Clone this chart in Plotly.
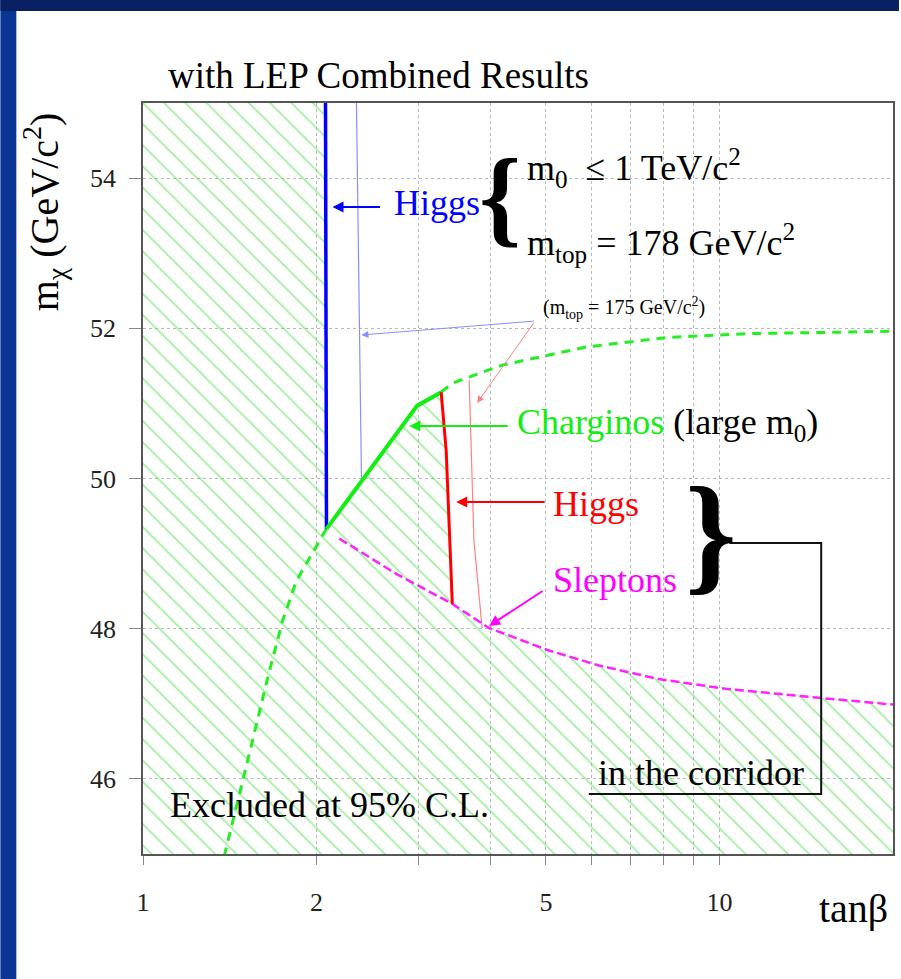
import plotly.graph_objects as go

# ---------------- data (tanβ , m_chi [GeV/c^2]) ----------------
x_range = [1, 20]
y_range = [45, 55]
x_tickvals = [1, 2, 3, 4, 5, 6, 7, 8, 9, 10]
x_ticktext = ["1", "2", "", "", "5", "", "", "", "", "10"]
y_tickvals = [46, 48, 50, 52, 54]
y_ticktext = ["46", "48", "50", "52", "54"]

higgs178_x = [2.073, 2.081]
higgs178_y = [55.0, 49.33]
higgs175_x = [2.346, 2.393]
higgs175_y = [55.0, 50.01]

chargino_solid_x = [2.081, 2.99, 3.29]
chargino_solid_y = [49.33, 50.97, 51.15]
chargino_upper_x = [3.29, 3.44, 4.20, 5.86, 8.16, 11.36, 20.0]
chargino_upper_y = [51.15, 51.27, 51.51, 51.75, 51.88, 51.93, 51.96]
chargino_lower_x = [2.081, 1.846, 1.747, 1.646, 1.489, 1.386]
chargino_lower_y = [49.33, 48.64, 48.11, 47.35, 45.97, 45.0]

higgs_red178_x = [3.29, 3.357, 3.44]
higgs_red178_y = [51.15, 50.37, 48.33]
higgs_red175_x = [3.68, 3.75, 3.875]
higgs_red175_y = [51.31, 49.17, 48.01]

slepton_x = [2.19, 2.75, 3.44, 3.98, 5.06, 6.18, 7.84, 10.24, 14.84, 20.0]
slepton_y = [49.2, 48.73, 48.33, 48.01, 47.71, 47.51, 47.33, 47.2, 47.08, 46.99]

# ---------------- layout geometry ----------------
W, H = 901, 979
L, R, T, B = 143, 6, 103, 125
PW, PH = W - L - R, H - T - B


def px(x):
    return (x - L) / PW


def py(y):
    return (H - B - y) / PH


SERIF = "Liberation Serif, Times New Roman, serif"

# excluded region polygon built from the boundary curves
ex_x = [x_range[0], x_range[0]] + higgs178_x + chargino_solid_x[1:] + higgs_red178_x[1:]
ex_y = [y_range[0], y_range[1]] + higgs178_y + chargino_solid_y[1:] + higgs_red178_y[1:]
for sx, sy in zip(slepton_x, slepton_y):
    if sx > higgs_red178_x[-1]:
        ex_x.append(sx)
        ex_y.append(sy)
ex_x += [x_range[1], x_range[0]]
ex_y += [y_range[0], y_range[0]]

fig = go.Figure()

fig.add_trace(go.Scatter(
    x=ex_x, y=ex_y, mode="lines", fill="toself",
    line=dict(width=0, color="rgba(0,0,0,0)"),
    fillcolor="rgba(0,0,0,0)",
    fillpattern=dict(shape="\\", size=15, solidity=0.11,
                     fgcolor="#3fdc3f", bgcolor="rgba(0,0,0,0)"),
    hoverinfo="skip", showlegend=False))

# thin (m_top = 175) lines
fig.add_trace(go.Scatter(x=higgs175_x, y=higgs175_y, mode="lines",
                         line=dict(color="#8c8cff", width=1.2), showlegend=False))
fig.add_trace(go.Scatter(x=higgs_red175_x, y=higgs_red175_y, mode="lines",
                         line=dict(color="#ff8080", width=1.2), showlegend=False))

# dashed curves
fig.add_trace(go.Scatter(x=chargino_upper_x, y=chargino_upper_y, mode="lines",
                         line=dict(color="#22ee22", width=3, dash="9px,7px"), showlegend=False))
fig.add_trace(go.Scatter(x=chargino_lower_x, y=chargino_lower_y, mode="lines",
                         line=dict(color="#22ee22", width=3, dash="9px,7px"), showlegend=False))
fig.add_trace(go.Scatter(x=slepton_x, y=slepton_y, mode="lines",
                         line=dict(color="#ff22ff", width=2.5, dash="9px,4px"), showlegend=False))

# solid boundaries
fig.add_trace(go.Scatter(x=higgs178_x, y=higgs178_y, mode="lines",
                         line=dict(color="#0000ff", width=3.5), showlegend=False))
fig.add_trace(go.Scatter(x=chargino_solid_x, y=chargino_solid_y, mode="lines",
                         line=dict(color="#11ee11", width=4), showlegend=False))
fig.add_trace(go.Scatter(x=higgs_red178_x, y=higgs_red178_y, mode="lines",
                         line=dict(color="#ff0000", width=3), showlegend=False))

ann = []


def text(x, y, s, size=36, color="black", xanchor="left", angle=0):
    ann.append(dict(xref="paper", yref="paper", x=px(x), y=py(y), text=s,
                    showarrow=False, xanchor=xanchor, yanchor="middle",
                    textangle=angle,
                    font=dict(family=SERIF, size=size, color=color)))


def arrow(hx, hy, tx, ty, color, width=2, size=1.1):
    ann.append(dict(xref="paper", yref="paper", x=px(hx), y=py(hy), text="",
                    showarrow=True, ax=tx - hx, ay=ty - hy, arrowhead=2,
                    arrowsize=size, arrowwidth=width, arrowcolor=color, standoff=0))


text(393, 203, "Higgs", color="#0000ff")
text(501, 197, "<b>{</b>", size=107, xanchor="center")
text(526, 168, "m<sub>0</sub>  ≤ 1 TeV/c<sup>2</sup>")
text(526, 243, "m<sub>top</sub> = 178 GeV/c<sup>2</sup>")
text(542, 308, "(m<sub>top</sub> = 175 GeV/c<sup>2</sup>)", size=20)
text(516, 424, "<span style='color:#11ee11'>Charginos</span> (large m<sub>0</sub>)")
text(552, 504, "Higgs", color="#ff0000")
text(552, 580, "Sleptons", color="#ff00ff")
text(713, 532, "<b>}</b>", size=131, xanchor="center")
text(597, 773, "in the corridor")
text(168, 805, "Excluded at 95% C.L.")
text(44, 212, "m<sub>χ</sub> (GeV/c<sup>2</sup>)", size=40, xanchor="center", angle=-90)
text(855, 908, "tanβ", size=40, xanchor="center")

arrow(333, 207, 382, 207, "#0000ff")
arrow(410, 426, 510, 426, "#11ee11")
arrow(457, 502, 547, 502, "#ff0000")
arrow(490, 626, 545, 590, "#ff00ff")
arrow(362, 335, 536, 321, "#8c8cff", width=1, size=1.4)
arrow(478, 403, 536, 321, "#ff8080", width=1, size=1.4)

shapes = [
    # blue frame stripes of the slide
    dict(type="rect", xref="paper", yref="paper", x0=px(0), x1=px(16), y0=py(H), y1=py(0),
         fillcolor="#0b3592", line=dict(width=0), layer="above"),
    dict(type="rect", xref="paper", yref="paper", x0=px(0), x1=px(W), y0=py(11), y1=py(0),
         fillcolor="#0a2064", line=dict(width=0), layer="above"),
    # corridor bracket
    dict(type="path", xref="paper", yref="paper",
         path=f"M{px(731)},{py(543)} L{px(823)},{py(543)} L{px(823)},{py(794)} L{px(590)},{py(794)}",
         line=dict(color="#111111", width=2)),
]

fig.update_layout(
    width=W, height=H,
    margin=dict(l=L, r=R, t=T, b=B),
    paper_bgcolor="white", plot_bgcolor="white",
    showlegend=False,
    title=dict(text="with LEP Combined Results", x=px(168), xref="paper", xanchor="left",
               y=1 - 75 / H, yref="container", yanchor="middle",
               font=dict(family=SERIF, size=37, color="black")),
    annotations=ann, shapes=shapes,
    xaxis=dict(type="log", range=[0, 1.30103], tickmode="array",
               tickvals=x_tickvals, ticktext=x_ticktext,
               ticks="outside", ticklen=9, tickcolor="#888", tickwidth=1,
               showgrid=True, gridcolor="#b8b8b8", griddash="dot", gridwidth=1,
               showline=True, linecolor="#555", linewidth=1.5, mirror=True,
               zeroline=False, ticklabelstandoff=15,
               tickfont=dict(family=SERIF, size=26, color="#222")),
    yaxis=dict(range=y_range, tickmode="array", tickvals=y_tickvals, ticktext=y_ticktext,
               ticks="outside", ticklen=12, tickcolor="#888", tickwidth=1,
               showgrid=True, gridcolor="#b8b8b8", griddash="dot", gridwidth=1,
               showline=True, linecolor="#555", linewidth=1.5, mirror=True,
               zeroline=False, ticklabelstandoff=8,
               tickfont=dict(family=SERIF, size=26, color="#222")),
)

fig.write_html("out.html")
